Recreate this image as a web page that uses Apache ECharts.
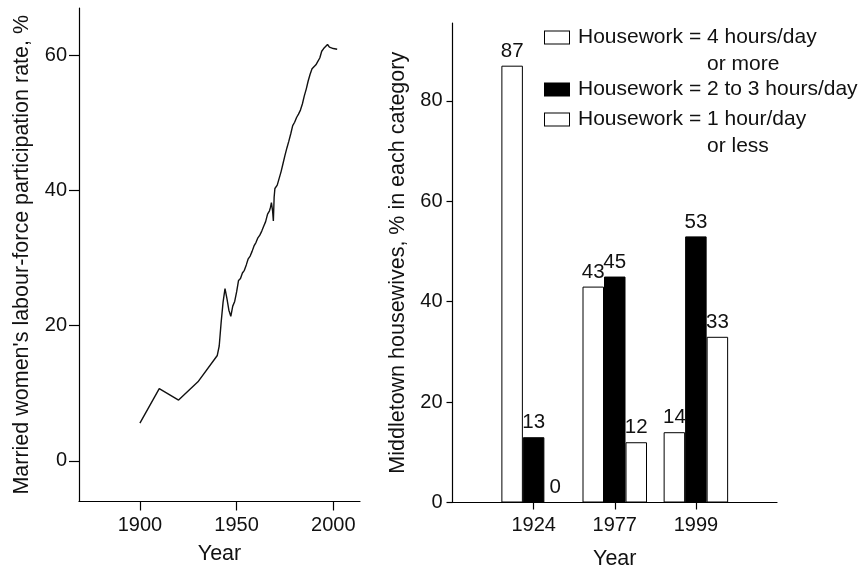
<!DOCTYPE html>
<html>
<head>
<meta charset="utf-8">
<script src="https://cdn.jsdelivr.net/npm/echarts@6/dist/echarts.min.js"></script>
<style>
  html, body { margin: 0; padding: 0; background: #fff; }
  #chart { width: 859px; height: 569px; }
</style>
</head>
<body>
<div id="chart"></div>
<script>
// left panel: married women's participation rate
const years = [1900, 1910, 1920, 1930, 1940, 1941, 1942, 1943, 1944, 1945, 1946, 1947, 1948, 1949,
  1950, 1951, 1952, 1953, 1954, 1955, 1956, 1957, 1958, 1959, 1960, 1961, 1962, 1963, 1964, 1965,
  1966, 1967, 1967.5, 1968, 1968.6, 1969, 1969.4, 1969.8, 1971, 1972, 1973, 1974, 1975, 1976, 1977,
  1978, 1979, 1980, 1981, 1982, 1983, 1984, 1985, 1986, 1987, 1988, 1989, 1990, 1991, 1992, 1993,
  1994, 1995, 1996, 1997, 1998, 1999, 2000, 2001, 2002];
const participation = [5.6, 10.7, 9.0, 11.7, 15.6, 17.0, 20.5, 23.5, 25.5, 24.0, 22.3, 21.4, 22.9, 23.6,
  25.0, 26.7, 27.0, 27.8, 28.2, 29.0, 29.9, 30.3, 31.0, 31.8, 32.3, 33.0, 33.4, 34.0, 34.7, 35.4,
  36.5, 37.0, 37.5, 38.2, 37.0, 35.5, 39.0, 40.3, 40.8, 41.8, 42.8, 44.0, 45.2, 46.3, 47.3,
  48.4, 49.6, 50.1, 50.8, 51.3, 51.9, 52.8, 54.0, 55.0, 56.2, 57.2, 58.0, 58.3, 58.6, 59.1, 59.6,
  60.6, 61.0, 61.1, 61.6, 61.2, 61.1, 61.0, 61.0, 60.9];
const lineXTicks = [1900, 1950, 2000];
const lineYTicks = [0, 20, 40, 60];

// right panel: Middletown housewives
const surveyYears = ['1924', '1977', '1999'];
const fourOrMore = [87, 43, 14];
const twoToThree = [13, 45, 53];
const oneOrLess = [0, 12, 33];
const barYTicks = [0, 20, 40, 60, 80];
const seriesNames = [
  'Housework = 4 hours/day or more',
  'Housework = 2 to 3 hours/day',
  'Housework = 1 hour/day or less'
];

const FONT = '"Liberation Sans", Arial, Helvetica, sans-serif';
const ink = '#111';
const LH = 26.5;
const LEG_FS = 21;

// width of "Housework = " so the second legend line sits under the number
const ctx = document.createElement('canvas').getContext('2d');
ctx.font = LEG_FS + 'px "Liberation Sans"';
const indent = 24 + 9 + ctx.measureText('Housework = ').width;

const legendText = {
  [seriesNames[0]]: '{wbox| }{gap| }{t|Housework = 4 hours/day}\n{pad| }{t|or more}',
  [seriesNames[1]]: '{bbox| }{gap| }{t|Housework = 2 to 3 hours/day}',
  [seriesNames[2]]: '{wbox| }{gap| }{t|Housework = 1 hour/day}\n{pad| }{t|or less}'
};

const legendFor = (name, top) => ({
  orient: 'vertical',
  left: 539,
  top,
  padding: 0,
  itemWidth: 0,
  itemHeight: 0,
  selectedMode: false,
  data: [name],
  formatter: n => legendText[n],
  textStyle: {
    rich: {
      t: { fontSize: LEG_FS, lineHeight: LH, color: ink, fontFamily: FONT },
      wbox: { width: 24, height: 12, lineHeight: LH, backgroundColor: '#fff', borderColor: '#000', borderWidth: 1 },
      bbox: { width: 24, height: 12, lineHeight: LH, backgroundColor: '#000', borderColor: '#000', borderWidth: 1 },
      gap: { width: 9, lineHeight: LH },
      pad: { width: indent, lineHeight: LH }
    }
  }
});

const toPoints = vals => vals.map((v, i) => [i + 1, v]);

const nameStyle = { color: ink, fontSize: 21.5, fontFamily: FONT };

const axisBase = {
  splitLine: { show: false },
  axisLine: { show: true, onZero: false, lineStyle: { color: '#000', width: 1.2 } },
  axisLabel: { color: ink, fontSize: 20, fontFamily: FONT },
  nameTextStyle: nameStyle
};

const ticks = (length, values) => ({
  show: true, length, customValues: values, lineStyle: { color: '#000', width: 1.2 }
});

const barSeries = (name, vals, fill) => ({
  name,
  type: 'bar',
  xAxisIndex: 1,
  yAxisIndex: 1,
  data: toPoints(vals),
  barWidth: 21.5,
  barGap: '0%',
  itemStyle: { color: fill, borderColor: '#000', borderWidth: 1 },
  label: { show: true, position: 'top', distance: 4, color: ink, fontSize: 20.5, fontFamily: FONT },
  emphasis: { disabled: true }
});

const chart = echarts.init(document.getElementById('chart'), null, { renderer: 'canvas' });

chart.setOption({
  backgroundColor: '#fff',
  animation: false,
  textStyle: { fontFamily: FONT },
  grid: [
    { left: 79, right: 499, top: 8, bottom: 67.5, outerBoundsMode: 'none' },
    { left: 452.5, right: 82, top: 23, bottom: 66.5, outerBoundsMode: 'none' }
  ],
  legend: [
    legendFor(seriesNames[0], 27),
    legendFor(seriesNames[1], 79),
    legendFor(seriesNames[2], 109)
  ],
  xAxis: [
    Object.assign({}, axisBase, {
      type: 'value', gridIndex: 0, min: 1868.5, max: 2013.8,
      name: 'Year', nameLocation: 'middle', nameGap: 42,
      axisTick: ticks(9, lineXTicks),
      axisLabel: Object.assign({}, axisBase.axisLabel, {
        margin: 14, customValues: lineXTicks, formatter: v => String(v)
      })
    }),
    Object.assign({}, axisBase, {
      type: 'value', gridIndex: 1, min: 0, max: 4,
      name: 'Year', nameLocation: 'middle', nameGap: 46,
      axisTick: ticks(7, [1, 2, 3]),
      axisLabel: Object.assign({}, axisBase.axisLabel, {
        margin: 13, customValues: [1, 2, 3], formatter: v => surveyYears[Math.round(v) - 1]
      })
    })
  ],
  yAxis: [
    Object.assign({}, axisBase, {
      type: 'value', gridIndex: 0, min: -6, max: 67,
      name: "Married women's labour-force participation rate, %",
      nameLocation: 'middle', nameGap: 46,
      axisTick: ticks(10, lineYTicks),
      axisLabel: Object.assign({}, axisBase.axisLabel, {
        margin: 12, customValues: lineYTicks, formatter: v => String(v)
      })
    }),
    Object.assign({}, axisBase, {
      type: 'value', gridIndex: 1, min: 0, max: 95.5,
      name: 'Middletown housewives, % in each category',
      nameLocation: 'middle', nameGap: 43,
      axisTick: ticks(6, barYTicks),
      axisLabel: Object.assign({}, axisBase.axisLabel, {
        margin: 10, customValues: barYTicks, formatter: v => String(v)
      })
    })
  ],
  series: [
    {
      name: 'Participation rate',
      type: 'line',
      xAxisIndex: 0,
      yAxisIndex: 0,
      data: years.map((y, i) => [y, participation[i]]),
      showSymbol: false,
      lineStyle: { color: '#111', width: 1.4 },
      emphasis: { disabled: true }
    },
    barSeries(seriesNames[0], fourOrMore, '#fff'),
    barSeries(seriesNames[1], twoToThree, '#000'),
    barSeries(seriesNames[2], oneOrLess, '#fff')
  ]
});
</script>
</body>
</html>
